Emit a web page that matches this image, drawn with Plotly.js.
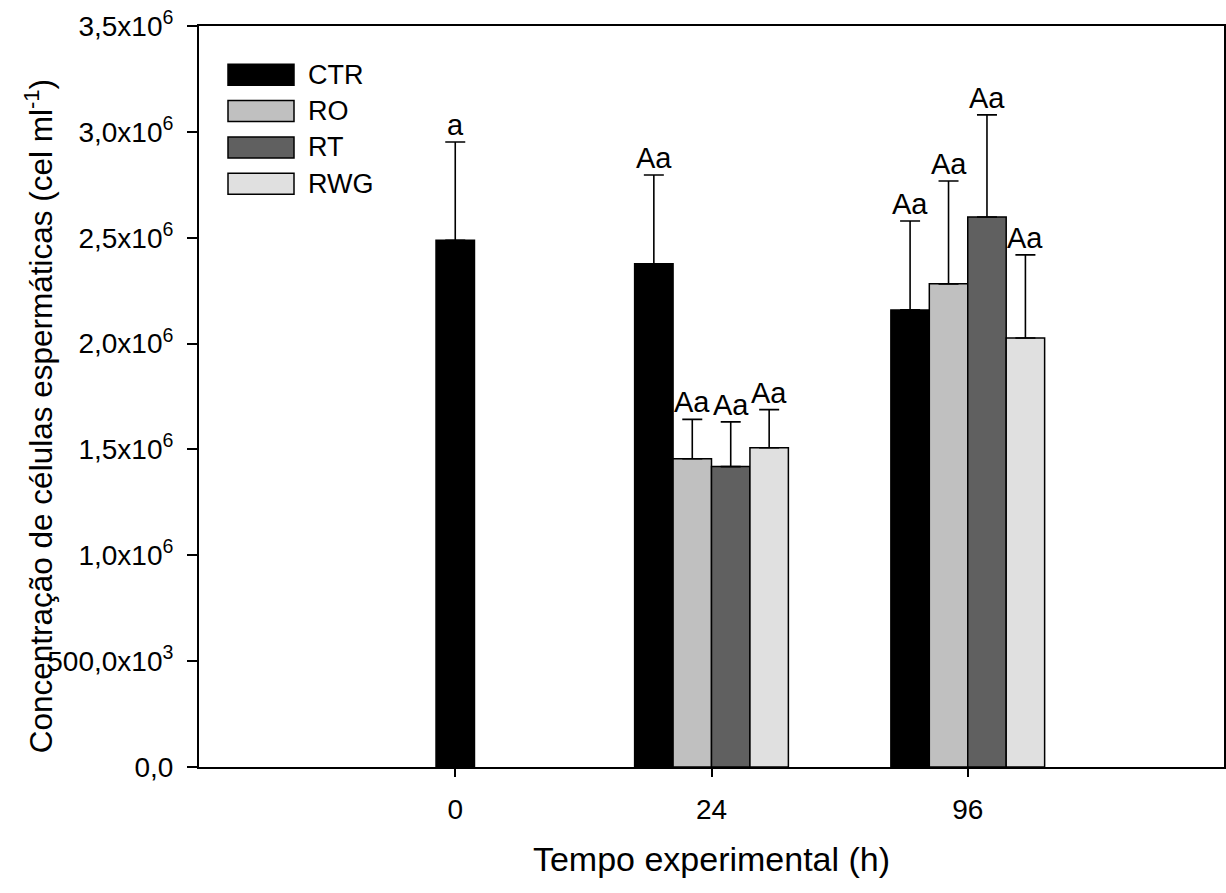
<!DOCTYPE html>
<html>
<head>
<meta charset="utf-8">
<script src="https://cdn.plot.ly/plotly-3.0.1.min.js"></script>
<style>html,body{margin:0;padding:0;background:#fff;}#chart{width:1226px;height:893px;}</style>
</head>
<body>
<div id="chart"></div>
<script>
// ---- data ----
var times = ['0', '24', '96'];
var seriesNames = ['CTR', 'RO', 'RT', 'RWG'];
var ctrMean = [2.488e6, 2.377e6, 2.159e6];
var ctrErr  = [0.464e6, 0.419e6, 0.420e6];
var roMean  = [null, 1.456e6, 2.282e6];
var roErr   = [null, 0.186e6, 0.486e6];
var rtMean  = [null, 1.419e6, 2.598e6];
var rtErr   = [null, 0.211e6, 0.482e6];
var rwgMean = [null, 1.508e6, 2.026e6];
var rwgErr  = [null, 0.180e6, 0.393e6];
var ctrLetters = ['a', 'Aa', 'Aa'];
var roLetters  = [null, 'Aa', 'Aa'];
var rtLetters  = [null, 'Aa', 'Aa'];
var rwgLetters = [null, 'Aa', 'Aa'];
var yTickVals = [0, 0.5e6, 1.0e6, 1.5e6, 2.0e6, 2.5e6, 3.0e6, 3.5e6];
var yTickText = ['0,0', '500,0x10<sup>3</sup>', '1,0x10<sup>6</sup>', '1,5x10<sup>6</sup>',
                 '2,0x10<sup>6</sup>', '2,5x10<sup>6</sup>', '3,0x10<sup>6</sup>', '3,5x10<sup>6</sup>'];

// ---- styles ----
var FONT = 'Arial, "Liberation Sans", sans-serif';
var colors = ['#000000', '#c0c0c0', '#606060', '#e0e0e0'];
var BW = 0.15;
var offsets = [[-0.075, -0.3, -0.3], -0.15, 0, 0.15];
var means = [ctrMean, roMean, rtMean, rwgMean];
var errs = [ctrErr, roErr, rtErr, rwgErr];
var letters = [ctrLetters, roLetters, rtLetters, rwgLetters];

var traces = [];
var annotations = [];
for (var s = 0; s < seriesNames.length; s++) {
  traces.push({
    type: 'bar',
    name: seriesNames[s],
    x: times,
    y: means[s],
    width: BW,
    offset: offsets[s],
    marker: {color: colors[s], line: {color: '#000', width: 1.5}},
    error_y: {type: 'data', symmetric: false, array: errs[s],
              arrayminus: means[s].map(function (v) { return v == null ? null : 0; }),
              color: '#000', thickness: 1.6, width: 10},
    showlegend: false,
    hoverinfo: 'x+y+name'
  });
  for (var i = 0; i < times.length; i++) {
    if (letters[s][i] == null || means[s][i] == null) continue;
    var off = Array.isArray(offsets[s]) ? offsets[s][i] : offsets[s];
    annotations.push({
      xref: 'x', yref: 'y', x: i + off + BW / 2, y: means[s][i] + errs[s][i],
      text: letters[s][i], showarrow: false, xanchor: 'center', yanchor: 'bottom',
      yshift: -1, font: {family: FONT, size: 29, color: '#000'}
    });
  }
}

// ---- custom legend (wide swatches) ----
var L = 199, R = 1224, T = 25.7, B = 766.7;
function px(x) { return (x - L) / (R - L); }
function py(y) { return (B - y) / (B - T); }
var shapes = [];
for (var k = 0; k < seriesNames.length; k++) {
  var y0 = 64 + k * 36.3, y1 = y0 + 21;
  shapes.push({type: 'rect', xref: 'paper', yref: 'paper',
    x0: px(228), x1: px(294), y0: py(y1), y1: py(y0),
    fillcolor: colors[k], line: {color: '#000', width: 1.5}});
  annotations.push({xref: 'paper', yref: 'paper', x: px(306), y: py((y0 + y1) / 2),
    text: seriesNames[k], showarrow: false, xanchor: 'left', yanchor: 'middle',
    font: {family: FONT, size: 27, color: '#000'}});
}
// y-axis title (overlaps tick label as in the original)
annotations.push({xref: 'paper', yref: 'paper', x: px(39), y: py(416),
  text: 'Concentração de células espermáticas (cel ml<sup>-1</sup>)', textangle: -90,
  showarrow: false, xanchor: 'center', yanchor: 'middle',
  font: {family: FONT, size: 31.5, color: '#000'}});

var layout = {
  width: 1226, height: 893,
  margin: {l: L, r: 1226 - R, t: T, b: 893 - B},
  paper_bgcolor: '#fff', plot_bgcolor: '#fff',
  barmode: 'overlay',
  font: {family: FONT, color: '#000'},
  xaxis: {
    type: 'category', range: [-1, 3], showgrid: false, zeroline: false,
    showline: true, linecolor: '#000', linewidth: 2, mirror: true,
    ticks: 'outside', ticklen: 8, tickwidth: 2, tickcolor: '#000',
    ticklabelstandoff: 8,
    tickfont: {family: FONT, size: 28, color: '#000'},
    title: {text: 'Tempo experimental (h)', font: {family: FONT, size: 34, color: '#000'}, standoff: 24},
    automargin: false, fixedrange: true
  },
  yaxis: {
    range: [0, 3.5e6], tickvals: yTickVals, ticktext: yTickText,
    showgrid: false, zeroline: false,
    showline: true, linecolor: '#000', linewidth: 2, mirror: true,
    ticks: 'outside', ticklen: 10, tickwidth: 2, tickcolor: '#000',
    ticklabelstandoff: 8,
    tickfont: {family: FONT, size: 28, color: '#000'},
    automargin: false, fixedrange: true
  },
  shapes: shapes,
  annotations: annotations,
  showlegend: false
};

Plotly.newPlot('chart', traces, layout, {displayModeBar: false, staticPlot: false});
</script>
</body>
</html>
